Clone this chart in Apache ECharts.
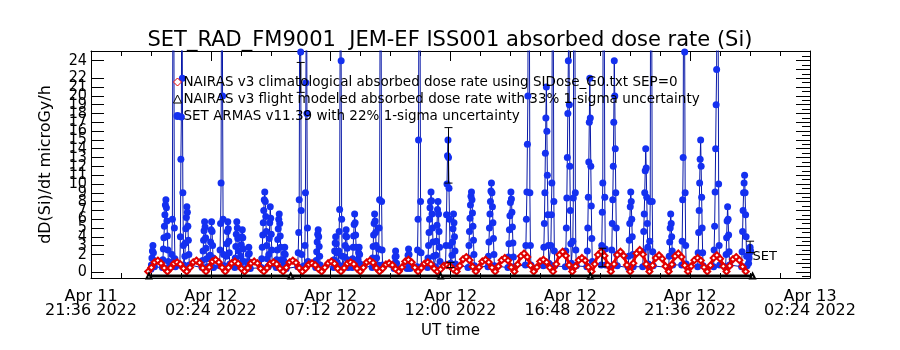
<!DOCTYPE html>
<html>
<head>
<meta charset="utf-8">
<script src="https://cdn.jsdelivr.net/npm/echarts@6/dist/echarts.min.js"></script>
<style>
  html, body { margin: 0; padding: 0; background: #fff; }
  #main { width: 900px; height: 350px; }
</style>
</head>
<body>
<div id="main"></div>
<script>
// time axis in hours after Apr 11 2022 21:36 UT
const startUT = Date.UTC(2022, 3, 11, 21, 36);
const yLabels = [0, 1, 2, 3, 4, 5, 6, 7, 8, 9, 10, 11, 12, 13, 14, 15, 16, 17, 18, 19, 20, 21, 22, 23, 24];
const yHalfTicks = [-0.5, 0.5, 1.5, 2.5, 3.5, 4.5, 5.5, 6.5, 7.5, 8.5, 9.5, 10.5, 11.5, 12.5, 13.5, 14.5, 15.5,
  16.5, 17.5, 18.5, 19.5, 20.5, 21.5, 22.5, 23.5, 24.5];

// SET ARMAS dose rate passes: [start hour, values every setStep hours]
const setStep = 0.02;
const setPasses = [
  [2.40, [0.3, 0.8, 1.6, 2.4, 3.0, 2.2, 1.3, 0.6]],
  [2.86, [0.5, 1.4, 2.6, 3.9, 5.2, 6.5, 7.6, 8.2, 7.3, 5.8, 4.1, 2.5, 1.2, 0.5]],
  [3.22, [0.6, 2.0, 6.0, 30, 60, 28, 5.0, 1.5, 0.6]],
  [3.56, [0.8, 4.0, 12.8, 17.6, 40, 22, 9.0, 3.0, 0.8]],
  [3.74, [0.6, 1.8, 3.3, 4.9, 6.2, 7.4, 6.8, 5.2, 3.6, 2.0, 0.8]],
  [4.45, [0.5, 1.3, 2.4, 3.6, 4.7, 5.7, 5.1, 3.9, 2.7, 1.5, 0.6]],
  [4.75, [0.6, 1.9, 3.4, 4.8, 5.7, 4.6, 3.0, 1.6, 0.5]],
  [5.15, [0.7, 2.5, 5.5, 10.1, 35, 50, 20, 6.0, 2.0, 0.7]],
  [5.40, [0.6, 1.8, 3.2, 4.6, 5.7, 4.9, 3.5, 2.2, 0.9]],
  [5.76, [0.5, 1.6, 2.9, 4.3, 5.7, 5.0, 3.8, 2.4, 1.0]],
  [5.98, [0.7, 1.8, 3.1, 4.0, 4.8, 3.9, 2.6, 1.2]],
  [6.26, [0.5, 1.2, 2.0, 2.8, 2.1, 1.1, 0.4]],
  [6.82, [0.5, 1.5, 2.8, 4.2, 5.6, 7.0, 8.2, 9.1, 8.0, 6.3, 4.6, 3.0, 1.5, 0.6]],
  [7.10, [0.6, 2.0, 3.8, 5.6, 7.4, 6.1, 4.3, 2.5, 0.9]],
  [7.42, [0.5, 1.4, 2.5, 3.7, 4.9, 6.0, 6.6, 5.5, 4.1, 2.8, 1.4, 0.6]],
  [7.70, [0.5, 1.3, 2.1, 2.8, 2.0, 1.0, 0.4]],
  [8.28, [0.6, 2.2, 4.5, 8.2, 30, 55, 25, 7.0, 2.0, 0.6]],
  [8.55, [0.7, 3.0, 9.0, 21.5, 45, 18, 5.0, 1.2]],
  [9.00, [0.5, 1.3, 2.3, 3.4, 4.3, 4.8, 4.0, 2.9, 1.8, 0.8]],
  [9.72, [0.5, 1.4, 2.4, 3.3, 4.0, 3.2, 2.2, 1.1]],
  [9.90, [0.8, 2.4, 4.6, 7.1, 28, 60, 24, 6.0, 1.8, 0.7]],
  [10.14, [0.6, 1.7, 3.0, 4.1, 4.8, 4.0, 2.7, 1.4, 0.5]],
  [10.46, [0.5, 1.5, 2.8, 4.1, 5.4, 6.6, 5.6, 4.2, 2.8, 1.3, 0.6]],
  [10.68, [0.6, 1.4, 2.2, 2.8, 2.0, 0.9]],
  [11.26, [0.5, 1.6, 2.9, 4.2, 5.5, 6.6, 5.8, 4.5, 3.0, 1.6, 0.6]],
  [11.50, [0.8, 2.6, 5.0, 8.2, 30, 65, 30, 8.0, 2.5, 0.8]],
  [12.14, [0.4, 1.0, 1.7, 2.4, 1.8, 1.0, 0.4]],
  [12.66, [0.4, 1.1, 1.9, 2.6, 2.0, 1.1, 0.4]],
  [13.06, [0.6, 2.5, 6.0, 15.0, 40, 70, 30, 8, 2.2, 0.6]],
  [13.48, [0.5, 1.6, 3.0, 4.5, 6.0, 7.3, 8.0, 9.1, 8.1, 6.6, 5.0, 3.4, 1.8, 0.6]],
  [13.80, [0.6, 1.9, 3.5, 5.3, 7.1, 8.0, 6.6, 4.6, 2.8, 1.2]],
  [14.20, [0.8, 3.0, 6.5, 10.0, 13.2, 15.0, 13.0, 9.5, 6.0, 3.0, 1.0]],
  [14.44, [0.6, 1.9, 3.4, 4.9, 6.6, 5.6, 4.0, 2.4, 0.9]],
  [15.10, [0.5, 1.6, 3.0, 4.6, 6.1, 7.6, 8.6, 9.1, 8.2, 6.7, 5.2, 3.6, 2.0, 0.7]],
  [15.90, [0.6, 1.8, 3.4, 5.0, 6.6, 8.0, 9.2, 10.1, 9.0, 7.4, 5.6, 3.8, 2.0, 0.7]],
  [16.70, [0.5, 1.7, 3.2, 4.8, 6.4, 7.9, 9.1, 8.3, 6.8, 5.1, 3.3, 1.7, 0.6]],
  [17.40, [0.8, 3.0, 6.0, 9.1, 14.5, 20.0, 45, 70, 30, 9, 3, 0.8]],
  [18.12, [0.7, 2.8, 5.5, 9.0, 13.5, 17.5, 21.0, 16.0, 11.0, 6.5, 3.0, 1.0]],
  [18.40, [0.8, 3.0, 6.5, 10.1, 35, 70, 26, 8, 2.4, 0.7]],
  [19.00, [0.6, 2.4, 5.0, 8.4, 13.0, 18.0, 24.0, 30, 19, 12, 7, 3.2, 1.0]],
  [19.28, [0.8, 3.5, 8.4, 40, 80, 35, 9, 2.5, 0.7]],
  [19.86, [0.6, 2.4, 5.0, 8.5, 12.5, 17.0, 22.0, 17.5, 12.0, 7.5, 3.8, 1.2]],
  [20.44, [0.8, 3.0, 6.8, 10.1, 40, 75, 30, 8.5, 2.6, 0.8]],
  [20.84, [0.6, 2.5, 5.5, 8.2, 12.0, 17.0, 24.0, 20, 14, 9, 5, 2, 0.7]],
  [21.52, [0.5, 1.8, 3.6, 5.5, 7.4, 9.1, 8.0, 6.0, 4.0, 2.0, 0.6]],
  [22.10, [0.6, 2.3, 4.6, 6.6, 9.0, 11.5, 14.0, 11.8, 8.5, 5.5, 2.8, 0.9]],
  [22.36, [0.8, 3.5, 8.0, 45, 80, 30, 8, 2.3, 0.7]],
  [23.14, [0.5, 1.8, 3.4, 5.0, 6.6, 5.5, 4.0, 2.4, 0.8]],
  [23.66, [0.8, 3.5, 8.2, 13.0, 40, 70, 25, 9, 3, 0.9]],
  [24.30, [0.6, 2.2, 4.5, 7.0, 10.1, 12.8, 15.0, 12.0, 8.5, 5.0, 2.2, 0.7]],
  [24.94, [0.6, 2.5, 5.2, 9.1, 14.0, 19.0, 23.0, 45, 70, 30, 10, 3, 0.8]],
  [25.42, [0.6, 2.0, 3.9, 5.8, 7.4, 6.0, 4.2, 2.3, 0.8]],
  [26.06, [0.6, 2.3, 4.6, 7.0, 9.0, 10.1, 11.0, 9.0, 6.5, 4.0, 1.8, 0.7]],
  [26.34, [1.0, 1.6, 2.2, 2.8, 2.4]]
];

// NAIRAS climatological, one row per half orbit, sampled every nairasStep hours
const nairasStart = 2.29;
const nairasStep = 0.1287;
const nairasClimo = [
  0.05, 0.5, 1.1, 1.3, 1.0, 0.45,
  0.05, 0.45, 0.95, 1.1, 0.9, 0.4,
  0.05, 0.5, 1.1, 1.3, 1.05, 0.45,
  0.05, 0.55, 1.2, 1.4, 1.1, 0.5,
  0.05, 0.5, 1.0, 1.2, 0.95, 0.4,
  0.05, 0.45, 1.0, 1.2, 1.0, 0.4,
  0.05, 0.45, 0.95, 1.1, 0.9, 0.4,
  0.05, 0.5, 1.1, 1.3, 1.05, 0.45,
  0.05, 0.4, 0.85, 1.0, 0.8, 0.35,
  0.05, 0.5, 1.0, 1.2, 0.95, 0.4,
  0.05, 0.45, 0.95, 1.1, 0.9, 0.4,
  0.05, 0.5, 1.1, 1.3, 1.05, 0.45,
  0.05, 0.4, 0.85, 1.0, 0.8, 0.35,
  0.05, 0.55, 1.2, 1.4, 1.1, 0.5,
  0.05, 0.45, 0.95, 1.1, 0.9, 0.4,
  0.05, 0.3, 0.7, 0.8, 0.65, 0.3,
  0.05, 0.7, 1.45, 1.7, 1.35, 0.6,
  0.05, 0.55, 1.2, 1.4, 1.1, 0.5,
  0.05, 0.65, 1.35, 1.6, 1.3, 0.55,
  0.05, 0.85, 1.8, 2.1, 1.7, 0.75,
  0.05, 0.55, 1.2, 1.4, 1.1, 0.5,
  0.05, 0.9, 1.95, 2.3, 1.85, 0.8,
  0.05, 0.65, 1.35, 1.6, 1.3, 0.55,
  0.05, 0.9, 1.95, 2.3, 1.85, 0.8,
  0.05, 0.9, 1.95, 2.3, 1.85, 0.8,
  0.05, 1.0, 2.1, 2.5, 2.0, 0.9,
  0.05, 0.75, 1.6, 1.9, 1.5, 0.65,
  0.05, 0.85, 1.8, 2.1, 1.7, 0.75,
  0.05, 0.65, 1.35, 1.6, 1.3, 0.55,
  0.05, 0.75, 1.6, 1.9, 1.5, 0.65,
  0.05, 0.7, 1.45, 1.7, 1.35, 0.6,
  0.05
];

// NAIRAS flight modeled (sits on the floor of the plot)
const flightTime = [2.32, 8.0, 14.0, 20.0, 26.5];
const flightDose = [-0.45, -0.45, -0.45, -0.45, -0.45];

// error bars: [hour, low, high]
const errBars = [
  [8.40, 20.4, 23.8],
  [14.32, 10.1, 16.4],
  [14.40, 0.5, 1.1],
  [20.48, 0.6, 2.7],
  [26.40, 2.2, 3.5]
];

const setData = [];
setPasses.forEach(([t, vals]) => {
  vals.forEach((v, i) => setData.push([+(t + i * setStep).toFixed(3), v]));
});
const climoData = nairasClimo.map((v, i) => [+(nairasStart + i * nairasStep).toFixed(4), v]);
const flightData = flightTime.map((t, i) => [t, flightDose[i]]);

const font = "'DejaVu Sans', 'Liberation Sans', sans-serif";
const narrow = "'Liberation Sans Narrow', 'DejaVu Sans Condensed', sans-serif";
const blue = '#1430f0';
const black = { color: '#000' };

function pad(n) { return n < 10 ? '0' + n : '' + n; }
function xLabel(v) {
  const d = new Date(startUT + Math.round(v * 3600) * 1000);
  return 'Apr ' + d.getUTCDate() + '\n' + pad(d.getUTCHours()) + ':' + pad(d.getUTCMinutes()) + ' 2022';
}

function xAxisBase(top) {
  return {
    type: 'value',
    position: top ? 'top' : 'bottom',
    min: 0,
    max: 28.8,
    interval: 4.8,
    axisLine: { onZero: false, lineStyle: black },
    axisTick: { inside: true, length: 10, lineStyle: black },
    minorTick: { show: true, splitNumber: 4, length: 5, lineStyle: black },
    splitLine: { show: false },
  };
}

const myChart = echarts.init(document.getElementById('main'));
myChart.setOption({
  animation: false,
  backgroundColor: '#fff',
  title: {
    text: 'SET_RAD_FM9001  JEM-EF ISS001 absorbed dose rate (Si)',
    left: 'center',
    top: 25,
    textStyle: { fontFamily: font, fontWeight: 'normal', fontSize: 21, color: '#000' },
  },
  legend: {
    orient: 'vertical',
    left: 173,
    top: 75,
    itemGap: 3,
    itemWidth: 8,
    itemHeight: 8,
    padding: 0,
    textStyle: { fontFamily: font, fontSize: 13.5, color: '#000', padding: [0, 0, 0, -3] },
    data: [
      { name: 'NAIRAS v3 climatological absorbed dose rate using SIDose_G0.txt SEP=0', icon: 'diamond',
        itemStyle: { color: '#fff', borderColor: '#e00000', borderWidth: 1 } },
      { name: 'NAIRAS v3 flight modeled absorbed dose rate with 33% 1-sigma uncertainty', icon: 'triangle',
        itemStyle: { color: '#fff', borderColor: '#000', borderWidth: 1 } },
      { name: 'SET ARMAS v11.39 with 22% 1-sigma uncertainty', icon: 'circle',
        itemStyle: { color: blue } },
    ],
  },
  grid: { left: 91, right: 90, top: 51, bottom: 72 },
  xAxis: [
    Object.assign(xAxisBase(false), {
      name: 'UT time',
      nameLocation: 'middle',
      nameGap: 46,
      nameTextStyle: { fontFamily: font, fontSize: 15, color: '#000' },
      axisLabel: { formatter: xLabel, fontFamily: font, fontSize: 16, color: '#000', lineHeight: 14, margin: 12,
        showMinLabel: true, showMaxLabel: true },
    }),
    Object.assign(xAxisBase(true), { axisLabel: { show: false } }),
  ],
  yAxis: [{
    type: 'value',
    min: -0.68,
    max: 25.1,
    name: 'dD(Si)/dt microGy/h',
    nameLocation: 'middle',
    nameGap: 37,
    nameTextStyle: { fontFamily: font, fontSize: 16, color: '#000' },
    axisLine: { show: true, onZero: false, lineStyle: black },
    axisTick: { show: true, inside: true, length: 13, customValues: yLabels, lineStyle: black },
    splitLine: { show: false },
    axisLabel: { customValues: yLabels, fontFamily: narrow, fontSize: 16, color: '#000', margin: 4,
      showMinLabel: true, showMaxLabel: true, hideOverlap: false },
  }, {
    type: 'value',
    position: 'right',
    min: -0.68,
    max: 25.1,
    axisLine: { show: true, onZero: false, lineStyle: black },
    axisTick: { show: true, inside: true, length: 14, customValues: yLabels, lineStyle: black },
    splitLine: { show: false },
    axisLabel: { show: false },
  }, {
    type: 'value',
    position: 'right',
    min: -0.68,
    max: 25.1,
    axisLine: { show: false, onZero: false },
    axisTick: { show: true, inside: true, length: 8, customValues: yHalfTicks, lineStyle: black },
    splitLine: { show: false },
    axisLabel: { show: false },
  }],
  series: [
    {
      name: 'SET ARMAS v11.39 with 22% 1-sigma uncertainty',
      type: 'line',
      data: setData,
      symbol: 'circle',
      symbolSize: 7,
      showAllSymbol: true,
      lineStyle: { color: '#0a1aa8', width: 1 },
      itemStyle: { color: blue },
      endLabel: { show: true, formatter: 'SET', fontFamily: font, fontSize: 13, color: '#000', distance: 2, offset: [0, 6] },
      z: 2,
    },
    {
      name: 'NAIRAS v3 climatological absorbed dose rate using SIDose_G0.txt SEP=0',
      type: 'line',
      data: climoData,
      smooth: 0.5,
      symbol: 'emptyDiamond',
      symbolSize: 6,
      showAllSymbol: true,
      lineStyle: { color: '#f00000', width: 3 },
      itemStyle: { color: '#e00000', borderWidth: 1.2 },
      z: 3,
    },
    {
      name: 'NAIRAS v3 flight modeled absorbed dose rate with 33% 1-sigma uncertainty',
      type: 'line',
      data: flightData,
      symbol: 'emptyTriangle',
      symbolSize: 5,
      lineStyle: { color: '#000', width: 3 },
      itemStyle: { color: '#000' },
      z: 4,
    },
    {
      type: 'custom',
      data: errBars,
      z: 5,
      renderItem(params, api) {
        const top = api.coord([api.value(0), api.value(2)]);
        const bot = api.coord([api.value(0), api.value(1)]);
        const w = 4;
        const style = { stroke: '#000', lineWidth: 1 };
        return {
          type: 'group',
          children: [
            { type: 'line', shape: { x1: top[0], y1: top[1], x2: bot[0], y2: bot[1] }, style },
            { type: 'line', shape: { x1: top[0] - w, y1: top[1], x2: top[0] + w, y2: top[1] }, style },
            { type: 'line', shape: { x1: bot[0] - w, y1: bot[1], x2: bot[0] + w, y2: bot[1] }, style },
          ],
        };
      },
    },
  ],
});
</script>
</body>
</html>
